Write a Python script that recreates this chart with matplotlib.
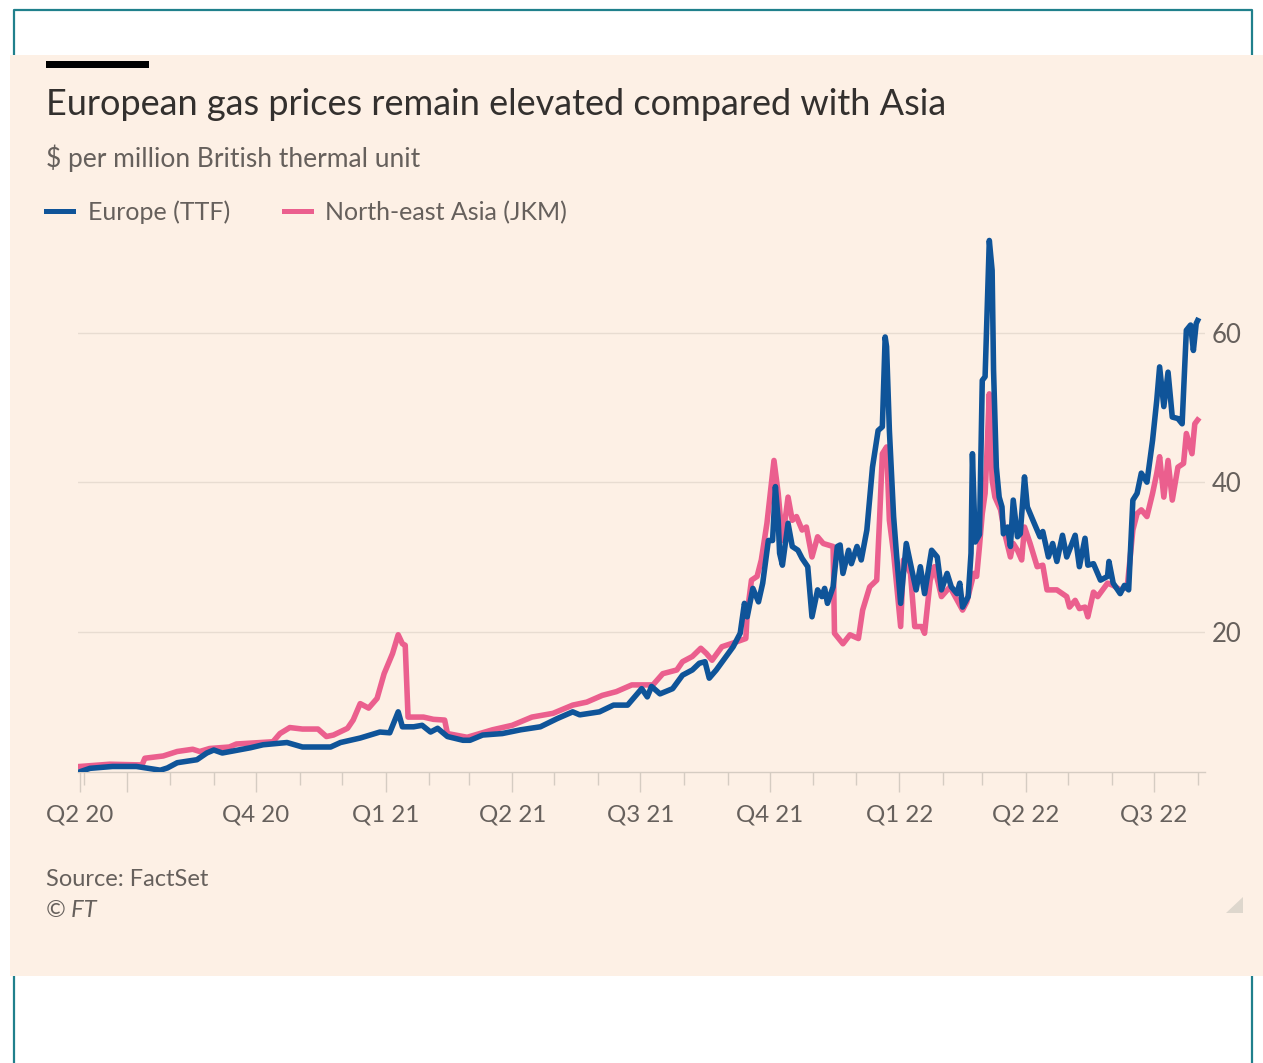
import pandas as pd
import matplotlib
matplotlib.use("Agg")
import matplotlib.pyplot as plt
import matplotlib.dates as mdates
from matplotlib.lines import Line2D
from matplotlib.patches import Rectangle, Polygon

# Europe (TTF), $/mmbtu
eu_dates = [
    "2020-05-29", "2020-06-05", "2020-06-21", "2020-07-08", "2020-07-25", "2020-07-30",
    "2020-08-06", "2020-08-20", "2020-08-27", "2020-09-01", "2020-09-07", "2020-09-27",
    "2020-10-06", "2020-10-23", "2020-11-03", "2020-11-23", "2020-11-30", "2020-12-14",
    "2020-12-28", "2021-01-04", "2021-01-10", "2021-01-13", "2021-01-21", "2021-01-27",
    "2021-02-02", "2021-02-07", "2021-02-14", "2021-02-25", "2021-03-02", "2021-03-11",
    "2021-03-25", "2021-04-07", "2021-04-21", "2021-05-03", "2021-05-14", "2021-05-19",
    "2021-06-02", "2021-06-12", "2021-06-22", "2021-07-02", "2021-07-06", "2021-07-09",
    "2021-07-15", "2021-07-24", "2021-07-31", "2021-08-07", "2021-08-12", "2021-08-16",
    "2021-08-19", "2021-08-24", "2021-08-29", "2021-09-05", "2021-09-10", "2021-09-13",
    "2021-09-15", "2021-09-19", "2021-09-23", "2021-09-26", "2021-09-30", "2021-10-03",
    "2021-10-05", "2021-10-07", "2021-10-08", "2021-10-10", "2021-10-14", "2021-10-17",
    "2021-10-21", "2021-10-24", "2021-10-28", "2021-10-31", "2021-11-04", "2021-11-07",
    "2021-11-09", "2021-11-11", "2021-11-15", "2021-11-18", "2021-11-20", "2021-11-22",
    "2021-11-26", "2021-11-28", "2021-12-02", "2021-12-05", "2021-12-09", "2021-12-13",
    "2021-12-17", "2021-12-20", "2021-12-22", "2021-12-23", "2021-12-25", "2021-12-28",
    "2021-12-30", "2022-01-02", "2022-01-06", "2022-01-10", "2022-01-13", "2022-01-16",
    "2022-01-19", "2022-01-24", "2022-01-28", "2022-01-31", "2022-02-04", "2022-02-07",
    "2022-02-11", "2022-02-13", "2022-02-15", "2022-02-19", "2022-02-21", "2022-02-22",
    "2022-02-24", "2022-02-27", "2022-03-01", "2022-03-03", "2022-03-06", "2022-03-08",
    "2022-03-09", "2022-03-11", "2022-03-13", "2022-03-15", "2022-03-16", "2022-03-19",
    "2022-03-21", "2022-03-23", "2022-03-26", "2022-03-28", "2022-03-31", "2022-04-02",
    "2022-04-06", "2022-04-11", "2022-04-13", "2022-04-17", "2022-04-20", "2022-04-23",
    "2022-04-27", "2022-04-30", "2022-05-06", "2022-05-09", "2022-05-13", "2022-05-15",
    "2022-05-19", "2022-05-24", "2022-05-29", "2022-05-30", "2022-06-02", "2022-06-07",
    "2022-06-10", "2022-06-13", "2022-06-16", "2022-06-19", "2022-06-22", "2022-06-26",
    "2022-06-30", "2022-07-03", "2022-07-05", "2022-07-08", "2022-07-11", "2022-07-14",
    "2022-07-18", "2022-07-21", "2022-07-24", "2022-07-27", "2022-07-29", "2022-07-31",
    "2022-08-01",
]
eu_values = [
    1.3, 1.75, 2.0, 2.0, 1.5, 1.8,
    2.5, 2.9, 3.8, 4.2, 3.8, 4.5,
    4.9, 5.2, 4.6, 4.6, 5.2, 5.8,
    6.6, 6.5, 9.3, 7.3, 7.3, 7.5,
    6.6, 7.1, 6.0, 5.5, 5.5, 6.2,
    6.4, 6.9, 7.3, 8.4, 9.3, 8.9,
    9.3, 10.2, 10.2, 12.4, 11.3, 12.7,
    11.7, 12.4, 14.2, 14.9, 15.8, 16.0,
    13.8, 14.9, 16.2, 18.0, 19.8, 23.8,
    22.0, 25.8, 24.0, 26.5, 32.2, 32.2,
    39.4, 34.9, 30.5, 28.9, 34.5, 31.4,
    30.9, 29.8, 28.7, 22.0, 25.6, 24.7,
    25.8, 23.8, 26.0, 31.4, 31.6, 27.8,
    30.9, 29.1, 31.4, 29.6, 33.6, 42.0,
    46.9, 47.4, 59.4, 58.1, 46.9, 35.4,
    30.5, 23.8, 31.8, 28.2, 25.6, 28.7,
    25.1, 30.9, 30.0, 25.6, 27.8, 26.0,
    25.1, 26.5, 23.3, 24.7, 30.5, 43.8,
    32.0, 33.0, 53.6, 54.1, 72.3, 68.3,
    55.0, 42.0, 38.0, 36.7, 33.1, 34.0,
    31.4, 37.6, 32.7, 33.1, 40.7, 36.7,
    34.9, 32.7, 33.4, 30.0, 31.8, 29.4,
    32.9, 30.0, 32.9, 28.7, 32.5, 28.9,
    29.1, 26.9, 27.4, 29.4, 26.5, 25.1,
    26.2, 25.6, 37.6, 38.5, 41.2, 40.0,
    45.6, 51.0, 55.4, 50.1, 54.7, 48.7,
    48.5, 47.8, 60.3, 61.0, 57.6, 61.2,
    61.6,
]

# North-east Asia (JKM), $/mmbtu
asia_dates = [
    "2020-05-29", "2020-06-19", "2020-07-12", "2020-07-14", "2020-07-27", "2020-08-06",
    "2020-08-17", "2020-08-22", "2020-08-29", "2020-09-12", "2020-09-17", "2020-10-13",
    "2020-10-18", "2020-10-25", "2020-11-03", "2020-11-14", "2020-11-20", "2020-11-25",
    "2020-12-05", "2020-12-09", "2020-12-14", "2020-12-20", "2020-12-26", "2020-12-31",
    "2021-01-06", "2021-01-10", "2021-01-13", "2021-01-15", "2021-01-17", "2021-01-28",
    "2021-02-04", "2021-02-12", "2021-02-14", "2021-02-28", "2021-03-18", "2021-04-01",
    "2021-04-15", "2021-04-30", "2021-05-14", "2021-05-24", "2021-06-04", "2021-06-14",
    "2021-06-25", "2021-07-10", "2021-07-17", "2021-07-27", "2021-07-31", "2021-08-07",
    "2021-08-13", "2021-08-17", "2021-08-21", "2021-08-28", "2021-09-05", "2021-09-14",
    "2021-09-15", "2021-09-18", "2021-09-22", "2021-09-25", "2021-09-29", "2021-10-04",
    "2021-10-07", "2021-10-10", "2021-10-14", "2021-10-17", "2021-10-20", "2021-10-24",
    "2021-10-27", "2021-10-31", "2021-11-04", "2021-11-08", "2021-11-15", "2021-11-16",
    "2021-11-22", "2021-11-27", "2021-12-03", "2021-12-06", "2021-12-11", "2021-12-16",
    "2021-12-18", "2021-12-20", "2021-12-23", "2021-12-25", "2021-12-28", "2022-01-02",
    "2022-01-04", "2022-01-09", "2022-01-12", "2022-01-17", "2022-01-19", "2022-01-23",
    "2022-01-26", "2022-01-31", "2022-02-06", "2022-02-15", "2022-02-18", "2022-02-23",
    "2022-02-25", "2022-02-27", "2022-03-01", "2022-03-03", "2022-03-04", "2022-03-06",
    "2022-03-08", "2022-03-10", "2022-03-14", "2022-03-17", "2022-03-21", "2022-03-23",
    "2022-03-26", "2022-03-29", "2022-03-31", "2022-04-04", "2022-04-09", "2022-04-13",
    "2022-04-16", "2022-04-23", "2022-04-30", "2022-05-02", "2022-05-06", "2022-05-09",
    "2022-05-13", "2022-05-15", "2022-05-19", "2022-05-22", "2022-05-29", "2022-06-02",
    "2022-06-07", "2022-06-12", "2022-06-16", "2022-06-19", "2022-06-22", "2022-06-26",
    "2022-06-30", "2022-07-03", "2022-07-05", "2022-07-08", "2022-07-11", "2022-07-14",
    "2022-07-18", "2022-07-22", "2022-07-24", "2022-07-28", "2022-07-30", "2022-08-01",
]
asia_values = [
    2.0, 2.3, 2.2, 3.1, 3.4, 4.0,
    4.3, 4.0, 4.4, 4.6, 5.0, 5.3,
    6.4, 7.2, 7.0, 7.0, 6.0, 6.2,
    7.1, 8.2, 10.4, 9.8, 11.1, 14.4,
    17.1, 19.6, 18.4, 18.2, 8.6, 8.6,
    8.3, 8.2, 6.4, 5.9, 6.9, 7.5,
    8.6, 9.1, 10.2, 10.6, 11.5, 12.0,
    12.9, 12.9, 14.4, 14.9, 16.0, 16.7,
    17.8, 17.1, 16.2, 18.0, 18.5, 19.1,
    22.5, 26.9, 27.4, 29.6, 34.5, 42.9,
    38.5, 32.2, 38.0, 34.9, 35.4, 33.6,
    34.0, 30.0, 32.7, 31.8, 31.4, 19.8,
    18.4, 19.6, 19.1, 22.9, 26.0, 26.9,
    34.9, 43.8, 44.7, 34.9, 30.5, 20.7,
    29.6, 27.8, 20.7, 20.7, 19.8, 26.9,
    28.7, 24.7, 26.0, 22.9, 24.0, 27.8,
    27.4, 31.4, 35.8, 38.5, 42.5, 51.8,
    40.3, 38.0, 36.3, 33.1, 30.0, 31.8,
    30.9, 29.6, 34.0, 31.8, 28.7, 28.9,
    25.6, 25.6, 24.7, 23.3, 24.2, 23.1,
    23.3, 22.0, 25.3, 24.7, 26.5, 26.2,
    25.6, 26.0, 33.6, 35.8, 36.3, 35.4,
    38.5, 41.2, 43.4, 38.0, 42.9, 37.6,
    42.0, 42.5, 46.5, 43.8, 47.8, 48.3,
]

y_ticks = [20, 40, 60]
tick_labels = ["Q2 20", "", "Q4 20", "Q1 21", "Q2 21", "Q3 21", "Q4 21", "Q1 22", "Q2 22", "Q3 22"]
label_dates = ["2020-05-29", "2020-07-01", "2020-10-01", "2021-01-01", "2021-04-01",
               "2021-07-01", "2021-10-01", "2022-01-01", "2022-04-01", "2022-07-01"]

title = "European gas prices remain elevated compared with Asia"
subtitle = "$ per million British thermal unit"

BG = "#FDF0E5"
BLUE = "#0F5499"
PINK = "#EB5F8E"
GREY = "#66605C"

W, H = 1263, 1063


def fx(px):
    return px / W


def fy(py):
    return 1 - py / H


plt.rcParams["font.family"] = ["Lato", "DejaVu Sans"]

fig = plt.figure(figsize=(W / 100, H / 100), dpi=100)
fig.patch.set_facecolor("white")

# teal frame behind the panel
fig.add_artist(Line2D([fx(14), fx(14), fx(1251.5), fx(1251.5)],
                      [fy(1063), fy(10), fy(10), fy(1063)],
                      transform=fig.transFigure, color="#20808c", lw=1.6, zorder=0))
fig.add_artist(Rectangle((fx(10), fy(976)), fx(1263) - fx(10), fy(55) - fy(976),
                         transform=fig.transFigure, facecolor=BG, edgecolor="none", zorder=1))
fig.add_artist(Rectangle((fx(46), fy(67.5)), fx(149) - fx(46), fy(60.5) - fy(67.5),
                         transform=fig.transFigure, facecolor="black", edgecolor="none", zorder=2))

ax = fig.add_axes([fx(78), fy(772), fx(1205) - fx(78), fy(230) - fy(772)])
ax.set_zorder(3)
ax.patch.set_alpha(0)

eu = pd.Series(eu_values, index=pd.to_datetime(eu_dates))
asia = pd.Series(asia_values, index=pd.to_datetime(asia_dates))

ax.plot(asia.index, asia.values, color=PINK, lw=4, solid_joinstyle="round", zorder=3)
ax.plot(eu.index, eu.values, color=BLUE, lw=4, solid_joinstyle="round", zorder=4)

ax.set_xlim(pd.Timestamp("2020-05-27 12:00"), pd.Timestamp("2022-08-06 06:00"))
ax.set_ylim(1.26, 73.7)

ax.set_yticks(y_ticks)
ax.yaxis.tick_right()
ax.tick_params(axis="y", length=0, pad=5, labelsize=18.5, labelcolor=GREY)
ax.grid(axis="y", color="#E8DCD1", lw=1)

ax.set_xticks(pd.to_datetime(label_dates))
ax.set_xticklabels(tick_labels)
ax.xaxis.set_minor_locator(mdates.MonthLocator())
ax.tick_params(axis="x", which="major", length=14.5, width=1, color="#D5CCC2",
               pad=9, labelsize=17.3, labelcolor=GREY)
ax.tick_params(axis="x", which="minor", length=9, width=1, color="#D5CCC2")

for side in ["top", "left", "right"]:
    ax.spines[side].set_visible(False)
ax.spines["bottom"].set_color("#D5CCC2")
ax.spines["bottom"].set_linewidth(1)

fig.text(fx(46), fy(115), title, fontsize=26, color="#33302E", va="baseline", zorder=5)
fig.text(fx(46), fy(167), subtitle, fontsize=19, color=GREY, va="baseline", zorder=5)

# legend
fig.add_artist(Line2D([fx(46), fx(73)], [fy(211), fy(211)], transform=fig.transFigure,
                      color=BLUE, lw=3.6, zorder=5))
fig.text(fx(88), fy(220.5), "Europe (TTF)", fontsize=18, color=GREY, va="baseline", zorder=5)
fig.add_artist(Line2D([fx(284), fx(311)], [fy(211), fy(211)], transform=fig.transFigure,
                      color=PINK, lw=3.6, zorder=5))
fig.text(fx(325), fy(220.5), "North-east Asia (JKM)", fontsize=18, color=GREY,
         va="baseline", zorder=5)

fig.text(fx(46), fy(886), "Source: FactSet", fontsize=17, color=GREY, va="baseline", zorder=5)
fig.text(fx(46), fy(917), "© FT", fontsize=17, color=GREY, style="italic",
         va="baseline", zorder=5)

fig.add_artist(Polygon([[fx(1243), fy(897)], [fx(1243), fy(913)], [fx(1226), fy(913)]],
                       closed=True, transform=fig.transFigure, facecolor="#DED7CD",
                       edgecolor="none", zorder=5))

fig.savefig("out.png", dpi=100, facecolor="white")
